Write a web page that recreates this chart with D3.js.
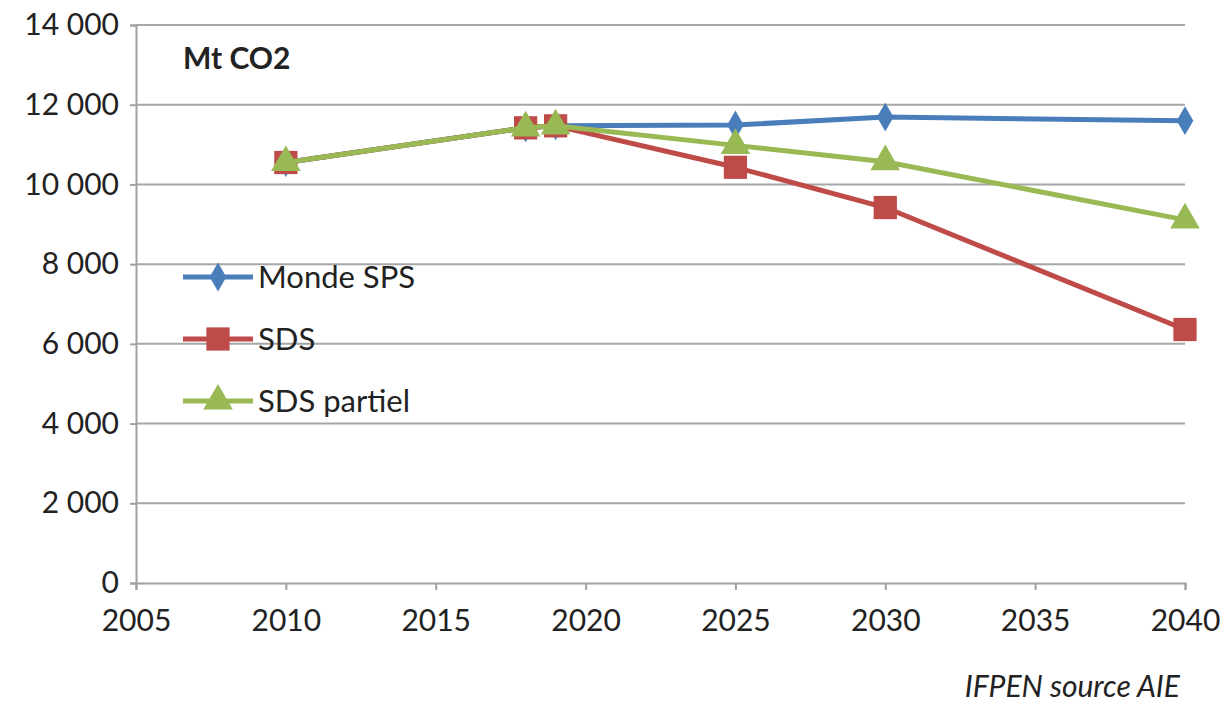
<!DOCTYPE html>
<html>
<head>
<meta charset="utf-8">
<script src="https://cdn.jsdelivr.net/npm/d3@7"></script>
<style>
  html, body { margin: 0; padding: 0; background: #fff; }
  svg { display: block; }
  text { font-family: Lato, "Open Sans", sans-serif; fill: #222; }
</style>
</head>
<body>
<svg id="chart" width="1228" height="706"></svg>
<script>
// CO2 emissions (Mt) by scenario
const years = [2010, 2018, 2019, 2025, 2030, 2040];
const mondeSPS = [10550, 11420, 11470, 11490, 11690, 11600];
const sds = [10550, 11420, 11470, 10430, 9420, 6360];
const sdsPartiel = [10550, 11420, 11470, 10980, 10570, 9110];

const seriesNames = ["Monde SPS", "SDS", "SDS partiel"];
const seriesColors = ["#4a7ebb", "#be4b48", "#98b954"];
const seriesShapes = [d3.symbolDiamond, d3.symbolSquare, d3.symbolTriangle];
const seriesSizes = [240, 540, 380];

const xTicks = [2005, 2010, 2015, 2020, 2025, 2030, 2035, 2040];
const yTicks = [0, 2000, 4000, 6000, 8000, 10000, 12000, 14000];

const svg = d3.select("#chart");
const x = d3.scaleLinear().domain([2005, 2040]).range([136, 1185]);
const y = d3.scaleLinear().domain([0, 14000]).range([583, 25]);

const fmt = v => d3.format(",")(v).replace(/,/g, " ");

// horizontal gridlines
svg.append("g")
  .selectAll("line")
  .data(yTicks.filter(v => v > 0))
  .join("line")
  .attr("x1", x(2005)).attr("x2", x(2040))
  .attr("y1", d => y(d)).attr("y2", d => y(d))
  .attr("stroke", "#a6a6a6").attr("stroke-width", 2);

// y axis
const yAxis = svg.append("g")
  .attr("transform", `translate(${x(2005)},0)`)
  .call(d3.axisLeft(y).tickValues(yTicks).tickSize(6).tickPadding(11).tickFormat(fmt));
yAxis.select(".domain").attr("stroke", "#a0a0a0").attr("stroke-width", 2);
yAxis.selectAll(".tick line").attr("stroke", "#a0a0a0").attr("stroke-width", 2);
yAxis.selectAll(".tick text")
  .attr("font-size", 30).attr("fill", "#222")
  .style("font-family", "Lato, sans-serif");

// x axis
const xAxis = svg.append("g")
  .attr("transform", `translate(0,${y(0)})`)
  .call(d3.axisBottom(x).tickValues(xTicks).tickSize(7).tickPadding(20).tickFormat(d3.format("d")));
xAxis.select(".domain").attr("stroke", "#a0a0a0").attr("stroke-width", 2);
xAxis.selectAll(".tick line").attr("stroke", "#a0a0a0").attr("stroke-width", 2);
xAxis.selectAll(".tick text")
  .attr("font-size", 30).attr("fill", "#222")
  .style("font-family", "Lato, sans-serif");

// series lines and markers
const allSeries = [mondeSPS, sds, sdsPartiel];
const line = d3.line().x((d, i) => x(years[i])).y(d => y(d));

allSeries.forEach((vals, s) => {
  const g = svg.append("g");
  g.append("path")
    .attr("d", line(vals))
    .attr("fill", "none")
    .attr("stroke", seriesColors[s])
    .attr("stroke-width", 5)
    .attr("stroke-linejoin", "round");
  g.selectAll("path.m")
    .data(vals)
    .join("path")
    .attr("class", "m")
    .attr("transform", (d, i) => `translate(${x(years[i])},${y(d)})`)
    .attr("d", d3.symbol().type(seriesShapes[s]).size(seriesSizes[s]))
    .attr("fill", seriesColors[s]);
});

// legend
const legendY = [277, 339, 401];
seriesNames.forEach((name, s) => {
  const g = svg.append("g").attr("transform", `translate(0,${legendY[s]})`);
  g.append("line")
    .attr("x1", 183).attr("x2", 253).attr("y1", 0).attr("y2", 0)
    .attr("stroke", seriesColors[s]).attr("stroke-width", 5);
  g.append("path")
    .attr("transform", "translate(218,0)")
    .attr("d", d3.symbol().type(seriesShapes[s]).size(seriesSizes[s]))
    .attr("fill", seriesColors[s]);
  g.append("text")
    .attr("x", 258).attr("y", 0).attr("dy", "0.35em")
    .attr("font-size", 31)
    .text(name);
});

// unit label
svg.append("text")
  .attr("x", 183).attr("y", 58).attr("dy", "0.35em")
  .attr("font-size", 30).attr("font-weight", "bold").attr("fill", "#111")
  .text("Mt CO2");

// source note
svg.append("text")
  .attr("x", 1180).attr("y", 686).attr("dy", "0.35em")
  .attr("text-anchor", "end")
  .attr("font-size", 30).attr("font-style", "italic")
  .text("IFPEN source AIE");
</script>
</body>
</html>
